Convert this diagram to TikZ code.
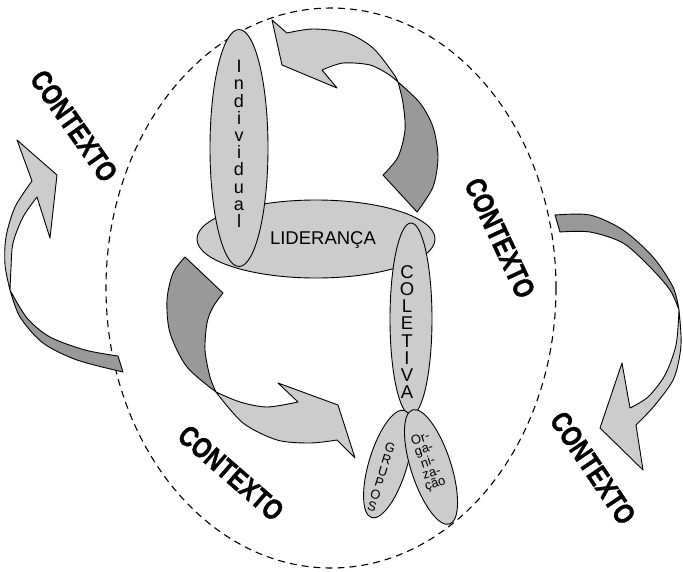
\documentclass[tikz,border=0pt]{standalone}
\usepackage{fontspec}
\setmainfont{Liberation Sans}
\newfontfamily\ctxfont{Liberation Sans}[BoldFeatures={FakeBold=1.2}]
\usepackage{graphicx}
\usepackage{tikz}
\usetikzlibrary{shapes}
\tikzstyle{front} = [fill=black!20, draw=black, line width=0.9pt, line join=round]
\tikzstyle{back} = [fill=black!40, draw=black, line width=0.9pt, line join=round]
\newcommand{\ctxword}{\scalebox{0.8}[1]{CONTEXTO}}

\begin{document}
\begin{tikzpicture}[
            x=1pt, y=-1pt,
            oval/.style={ellipse, draw=black, fill=black!20, line width=0.9pt, inner sep=0pt},
            ctx/.style={inner sep=0pt, font=\ctxfont\bfseries\fontsize{29}{29}\selectfont},
            letters/.style={inner sep=0pt, align=center}
        ]
            \useasboundingbox (0,0) rectangle (683,571);

            \node[ellipse, draw=black, dashed, line width=1.1pt, dash pattern=on 7pt off 5pt,
                  minimum width=450pt, minimum height=560pt] (ring) at (331,288) {};

            % arrow top right
            \path[back] (398,82) -- plot[smooth] coordinates {(398,82) (420,103) (433,127) (438,157) (433,187) (417,212)}
                -- (383,175) -- plot[smooth] coordinates {(383,175) (398,157) (405,130) (403,103) (398,82)} -- cycle;
            \path[front] (398,82) -- plot[smooth] coordinates {(398,82) (393,73) (373,48) (347,33) (313,29) (287,33)}
                -- (272,20) -- (282,65) -- (337,88) -- (322,70)
                -- plot[smooth] coordinates {(322,70) (343,63) (370,65) (388,74) (398,82)} -- cycle;

            % arrow bottom left
            \path[back] (185,257) -- (223,293) -- plot[smooth] coordinates {(223,293) (213,307) (207,323) (205,350) (210,377) (216,392)}
                -- plot[smooth] coordinates {(216,392) (187,367) (170,333) (167,300) (173,273) (185,257)} -- cycle;
            \path[front] (216,392) -- plot[smooth] coordinates {(216,392) (243,423) (277,440) (310,443) (337,440)}
                -- (355,458) -- (338,405) -- (278,383) -- (298,402)
                -- plot[smooth] coordinates {(298,402) (267,407) (240,402) (216,392)} -- cycle;

            % arrow outside left
            \path[back] (10,290) -- plot[smooth] coordinates {(10,290) (20,317) (43,343) (77,360) (123,372)}
                -- (118,356) -- plot[smooth] coordinates {(118,356) (85,350) (50,337) (27,318) (10,290)} -- cycle;
            \path[front] (10,290) -- plot[smooth] coordinates {(10,290) (5,265) (6,237) (15,207) (32,181)}
                -- (17,140) -- (57,175) -- (50,238) -- (37,197)
                -- plot[smooth] coordinates {(37,197) (23,217) (13,243) (11,268) (10,290)} -- cycle;

            % arrow outside right
            \path[back] (555,215) -- plot[smooth] coordinates {(555,215) (590,215) (623,230) (653,257) (673,287) (679,310)}
                -- plot[smooth] coordinates {(679,310) (670,290) (650,267) (623,243) (590,232) (560,232)} -- cycle;
            \path[front] (679,310) -- plot[smooth] coordinates {(679,310) (681,345) (674,378) (655,405) (636,425)}
                -- (643,470) -- (600,428) -- (622,363) -- (630,408)
                -- plot[smooth] coordinates {(630,408) (648,397) (665,375) (676,345) (679,310)} -- cycle;

            \node[oval, minimum width=238pt, minimum height=78pt] (lid) at (316,239) {};
            \node[oval, minimum width=58pt, minimum height=237pt] (ind) at (239,148) {};
            \node[oval, minimum width=42pt, minimum height=192pt] (col) at (411,319) {};
            \node[oval, minimum width=38pt, minimum height=112pt, rotate=-17] (gru) at (388,464) {};
            \node[oval, minimum width=40pt, minimum height=120pt, rotate=18] (org) at (431,467) {};

            \node[inner sep=0pt, font=\fontsize{18.5}{18.5}\selectfont] (lidtxt) at (323,240) {LIDERANÇA};
            \node[letters, font=\fontsize{18}{17.2}\selectfont] (indtxt) at (239,144) {I\\n\\d\\i\\v\\i\\d\\u\\a\\l};
            \node[letters, font=\fontsize{18.5}{17.2}\selectfont] (coltxt) at (407,332) {C\\O\\L\\E\\T\\I\\V\\A};
            \node[letters, font=\fontsize{13}{12.3}\selectfont, rotate=-17] (grutxt) at (381,477) {G\\R\\U\\P\\O\\S};
            \node[letters, font=\fontsize{13}{11.5}\selectfont, rotate=18] (orgtxt) at (428,462) {Or-\\ga-\\ni-\\za-\\ção};

            \node[ctx, rotate=-55] (ctxa) at (74,126) {\ctxword};
            \node[ctx, rotate=-65] (ctxb) at (500,238) {\ctxword};
            \node[ctx, rotate=-41] (ctxc) at (231,473) {\ctxword};
            \node[ctx, rotate=-56] (ctxd) at (593,468) {\ctxword};

        \end{tikzpicture}
\end{document}
